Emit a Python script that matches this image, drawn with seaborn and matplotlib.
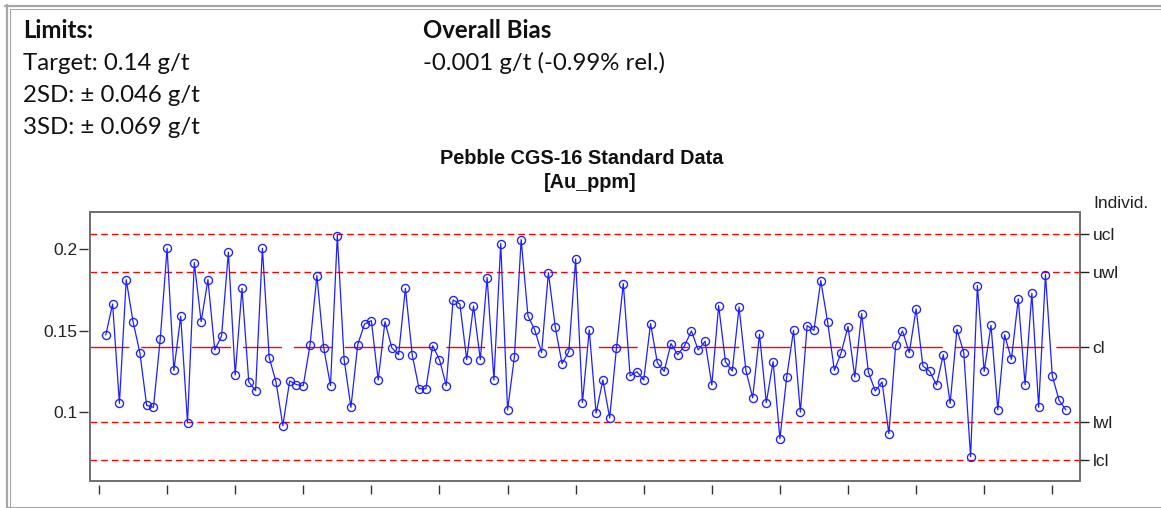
import matplotlib
matplotlib.use("Agg")
import matplotlib.pyplot as plt
import seaborn as sns
import pandas as pd
from matplotlib.lines import Line2D
from matplotlib.patches import Rectangle

# ---------------- data ----------------
au_ppm = [
    0.1474, 0.1663, 0.1055, 0.1812, 0.1555, 0.1366, 0.1043, 0.1031, 0.1451, 0.2004,
    0.1257, 0.1588, 0.0937, 0.1916, 0.1555, 0.1812, 0.1382, 0.1468, 0.1980, 0.1229,
    0.1759, 0.1186, 0.1133, 0.2004, 0.1335, 0.1186, 0.0919, 0.1192, 0.1170, 0.1164,
    0.1415, 0.1837, 0.1396, 0.1164, 0.2082, 0.1323, 0.1031, 0.1415, 0.1541, 0.1561,
    0.1198, 0.1555, 0.1396, 0.1353, 0.1759, 0.1353, 0.1145, 0.1145, 0.1408, 0.1323,
    0.1164, 0.1688, 0.1663, 0.1323, 0.1651, 0.1323, 0.1825, 0.1198, 0.2033, 0.1015,
    0.1337, 0.2057, 0.1590, 0.1504, 0.1366, 0.1855, 0.1525, 0.1298, 0.1372, 0.1939,
    0.1060, 0.1504, 0.0996, 0.1198, 0.0966, 0.1396, 0.1788, 0.1223, 0.1249, 0.1198,
    0.1543, 0.1304, 0.1251, 0.1421, 0.1353, 0.1408, 0.1498, 0.1382, 0.1435, 0.1168,
    0.1653, 0.1310, 0.1253, 0.1645, 0.1257, 0.1090, 0.1478, 0.1060, 0.1310, 0.0839,
    0.1217, 0.1502, 0.1002, 0.1531, 0.1502, 0.1806, 0.1555, 0.1257, 0.1366, 0.1525,
    0.1217, 0.1604, 0.1245, 0.1131, 0.1186, 0.0870, 0.1412, 0.1498, 0.1366, 0.1633,
    0.1284, 0.1251, 0.1168, 0.1353, 0.1055, 0.1508, 0.1366, 0.0729, 0.1776, 0.1251,
    0.1533, 0.1015, 0.1474, 0.1325, 0.1694, 0.1170, 0.1729, 0.1031, 0.1843, 0.1223,
    0.1074, 0.1015,
]
sample_no = list(range(1, len(au_ppm) + 1))

target = 0.14
sd2 = 0.046
sd3 = 0.069
limit_labels = ["ucl", "uwl", "cl", "lwl", "lcl"]
limit_values = [target + sd3, target + sd2, target, target - sd2, target - sd3]

y_ticks = [0.1, 0.15, 0.2]
y_tick_labels = ["0.1", "0.15", "0.2"]
x_ticks = list(range(0, 141, 10))

header_left = ["Limits:", "Target: 0.14 g/t", "2SD: \u00b1 0.046 g/t", "3SD: \u00b1 0.069 g/t"]
header_right = ["Overall Bias", "-0.001 g/t (-0.99% rel.)"]
title_lines = ["Pebble CGS-16 Standard Data", "[Au_ppm]"]

df = pd.DataFrame({"sample": sample_no, "au": au_ppm})

# ---------------- figure ----------------
sns.set_style("white")
plt.rcParams["font.family"] = ["Lato", "DejaVu Sans"]

W, H = 1161, 508
fig = plt.figure(figsize=(W / 100, H / 100), dpi=100)


def fx(px):
    return px / W


def fy(py):
    return 1 - py / H


ax = fig.add_axes([fx(90), fy(480.7), fx(1080) - fx(90), fy(211.7) - fy(480.7)])
ax.set_facecolor("white")

blue = "#1f1fff"
sns.lineplot(data=df, x="sample", y="au", ax=ax, color=blue, linewidth=0.9,
             marker="o", markersize=5.8, markerfacecolor="none",
             markeredgecolor=blue, markeredgewidth=0.95, errorbar=None, zorder=5)

for lab, v in zip(limit_labels, limit_values):
    if lab == "cl":
        ax.axhline(v, color="#ff0000", lw=1.0, dashes=(28, 8.6), zorder=2)
    else:
        ax.axhline(v, color="#ff0000", lw=1.0, dashes=(4.8, 2.9), zorder=2)

ax.set_xlim(-1.32, 144.07)
ax.set_ylim(0.0582, 0.2228)
ax.set_xlabel("")
ax.set_ylabel("")

for s in ax.spines.values():
    s.set_visible(False)
ax.spines["bottom"].set_position(("outward", 3))
ax.spines["left"].set_position(("outward", 1.5))
ax.add_patch(Rectangle((0, 0), 1, 1, transform=ax.transAxes, fill=False,
                       edgecolor="#6e6e6e", lw=1.4, clip_on=False, zorder=10))

lab_font = ["Liberation Sans", "DejaVu Sans"]
ax.set_xticks(x_ticks)
ax.set_xticklabels([""] * len(x_ticks))
ax.set_yticks(y_ticks)
ax.set_yticklabels(y_tick_labels, fontfamily=lab_font, fontsize=12.5, color="#222222")
ax.tick_params(axis="x", direction="out", length=6.5, width=1.0, color="#333333",
               bottom=True)
ax.tick_params(axis="y", direction="out", length=6.5, width=1.0, color="#333333",
               pad=1.0, left=True)
ax.grid(False)

ax2 = ax.twinx()
ax2.set_ylim(ax.get_ylim())
for s in ax2.spines.values():
    s.set_visible(False)
ax2.set_yticks(limit_values)
ax2.set_yticklabels(limit_labels, fontfamily=lab_font, fontsize=12.5, color="#222222")
ax2.tick_params(axis="y", direction="out", length=6.5, width=1.0, color="#222222",
                pad=2.5, right=True)
ax2.grid(False)

# ---------------- texts ----------------
fig.text(fx(1093), fy(203), "Individ.", fontfamily=lab_font,
         fontsize=12.5, color="#222222", va="center", ha="left")

ys = [30, 63, 96, 128]
for i, (t, y) in enumerate(zip(header_left, ys)):
    fig.text(fx(23), fy(y), t, fontsize=17.3, va="center", ha="left",
             fontweight="bold" if i == 0 else "normal", color="#111111")
for i, (t, y) in enumerate(zip(header_right, ys[:2])):
    fig.text(fx(423), fy(y), t, fontsize=17.3, va="center", ha="left",
             fontweight="bold" if i == 0 else "normal", color="#111111")

fig.text(fx(582), fy(159), title_lines[0], fontfamily=lab_font,
         fontweight="bold", fontsize=14.3, ha="center", va="center", color="#111111")
fig.text(fx(590), fy(182), title_lines[1], fontfamily=lab_font,
         fontweight="bold", fontsize=14.3, ha="center", va="center", color="#111111")

# ---------------- outer frame ----------------
border = "#a6a6a6"
fig.add_artist(Line2D([fx(5), fx(1161)], [fy(5.5), fy(5.5)], transform=fig.transFigure,
                      color=border, lw=1.6))
fig.add_artist(Line2D([fx(10), fx(1161)], [fy(9.2), fy(9.2)], transform=fig.transFigure,
                      color=border, lw=0.8))
fig.add_artist(Line2D([fx(6.5), fx(6.5)], [fy(5), fy(507)], transform=fig.transFigure,
                      color=border, lw=1.6))
fig.add_artist(Line2D([fx(10.2), fx(10.2)], [fy(9), fy(507)], transform=fig.transFigure,
                      color=border, lw=0.8))
fig.add_artist(Line2D([fx(6), fx(1161)], [fy(506.8), fy(506.8)], transform=fig.transFigure,
                      color=border, lw=0.8))

fig.savefig("out.png", dpi=100, facecolor="white")
